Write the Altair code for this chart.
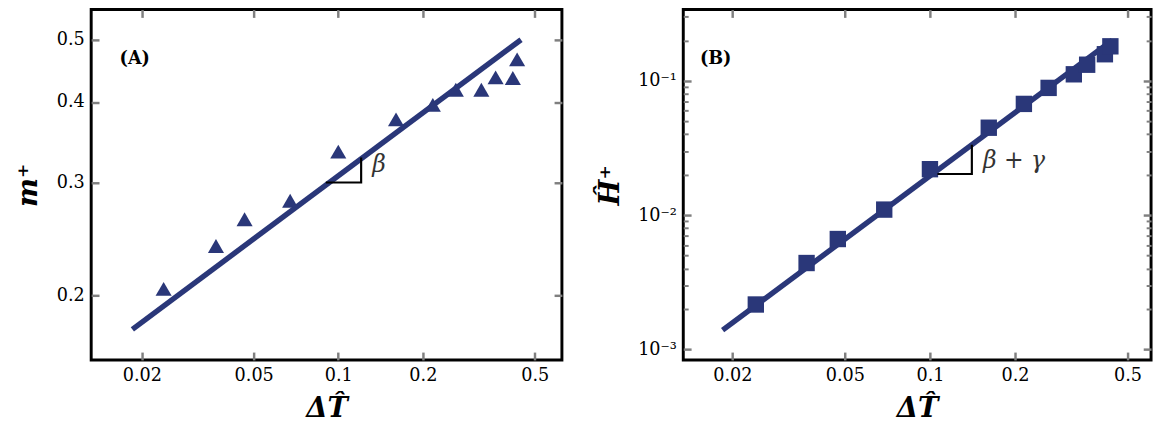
import altair as alt
import pandas as pd

# ---------------- data ----------------
# Panel A : m+ vs dT
dT_a = [0.0239, 0.0367, 0.0464, 0.0674, 0.100, 0.1605, 0.217, 0.262, 0.323, 0.363, 0.418, 0.433]
m_plus = [0.205, 0.239, 0.263, 0.281, 0.335, 0.376, 0.396, 0.418, 0.418, 0.437, 0.436, 0.466]
fit_a_dT = [0.0185, 0.447]
fit_a_m = [0.1774, 0.500]
slope_a_dT = [0.0903, 0.1206, 0.1206]
slope_a_m = [0.300, 0.300, 0.328]
slope_a_text = ["β"]
slope_a_text_dT = [0.132]
slope_a_text_m = [0.3195]

# Panel B : H+ vs dT
dT_b = [0.0242, 0.0366, 0.0472, 0.0689, 0.100, 0.1615, 0.215, 0.263, 0.323, 0.360, 0.416, 0.435]
h_plus = [0.00216, 0.00440, 0.00664, 0.0110, 0.0220, 0.0448, 0.0674, 0.0887, 0.112, 0.132, 0.158, 0.181]
fit_b_dT = [0.01846, 0.442]
fit_b_h = [0.00139, 0.201]
slope_b_dT = [0.1063, 0.1407, 0.1407]
slope_b_h = [0.02025, 0.02025, 0.03346]
slope_b_text = ["β + γ"]
slope_b_text_dT = [0.154]
slope_b_text_h = [0.0252]

# axes
x_ticks = [0.02, 0.05, 0.1, 0.2, 0.5]
m_ticks = [0.2, 0.3, 0.4, 0.5]
h_major = [0.001, 0.01, 0.1]
h_minor = [0.002, 0.003, 0.004, 0.005, 0.006, 0.007, 0.008, 0.009,
           0.02, 0.03, 0.04, 0.05, 0.06, 0.07, 0.08, 0.09,
           0.2, 0.3]
x_dom_a = [0.0132, 0.625]
m_dom = [0.159, 0.557]
x_dom_b = [0.0134, 0.606]
h_dom = [0.000835, 0.34]

NAVY = "#2a3779"
TICK = "#7f7f7f"
FONT = "DejaVu Serif"
W_A, W_B, H = 481, 478, 358


def ax(orient, values, size=8, labels=True, title=None, fmt=None, expr=None, tw=2.5):
    kw = dict(orient=orient, values=values, tickSize=size, offset=-size, domain=False,
              grid=False, labels=labels, tickColor=TICK, tickWidth=tw, title=title,
              labelPadding=7, titlePadding=11,
              labelFont=FONT, labelFontSize=18, labelColor="black",
              titleFont=FONT, titleFontSize=28, titleFontWeight="bold",
              titleFontStyle="italic", titleColor="black")
    if fmt:
        kw["format"] = fmt
    if expr:
        kw["labelExpr"] = expr
    if orient == "left":
        kw["titlePadding"] = 14
    return alt.Axis(**kw)


fitA = pd.DataFrame({"x": fit_a_dT, "y": fit_a_m})
ptsA = pd.DataFrame({"x": dT_a, "y": m_plus})
slA = pd.DataFrame({"x": slope_a_dT, "y": slope_a_m, "o": [0, 1, 2]})
txA = pd.DataFrame({"x": slope_a_text_dT, "y": slope_a_text_m, "t": slope_a_text})

xsA = alt.Scale(type="log", domain=x_dom_a, nice=False)
ysA = alt.Scale(type="log", domain=m_dom, nice=False)

a_line = alt.Chart(fitA).mark_line(color=NAVY, strokeWidth=5.5, strokeCap="butt").encode(
    x=alt.X("x:Q", scale=xsA, axis=ax("bottom", x_ticks, title="ΔT\u0302", fmt="~g")),
    y=alt.Y("y:Q", scale=ysA, axis=ax("left", m_ticks, title="m\u207a", fmt="~g")),
)
a_pts = alt.Chart(ptsA).mark_point(shape="triangle-up", filled=True, size=270, color=NAVY, opacity=1).encode(
    x=alt.X("x:Q", scale=xsA, axis=ax("top", x_ticks, labels=False)),
    y=alt.Y("y:Q", scale=ysA, axis=ax("right", m_ticks, labels=False)),
)
a_slope = alt.Chart(slA).mark_line(color="black", strokeWidth=2.2).encode(
    x=alt.X("x:Q", scale=xsA, axis=None),
    y=alt.Y("y:Q", scale=ysA, axis=None),
    order="o:Q",
)
a_txt = alt.Chart(txA).mark_text(font=FONT, fontSize=24, fontStyle="italic", align="left",
                                 baseline="middle", color="#333333").encode(
    x=alt.X("x:Q", scale=xsA, axis=None),
    y=alt.Y("y:Q", scale=ysA, axis=None),
    text="t:N",
)
a_lab = alt.Chart(txA).mark_text(text="(A)", font=FONT, fontSize=18, fontWeight="bold",
                                 align="left", baseline="middle", color="black").encode(
    x=alt.value(29), y=alt.value(51)
)
panelA = alt.layer(a_line, a_pts, a_slope, a_txt, a_lab).resolve_axis(
    x="independent", y="independent").properties(width=W_A, height=H)

fitB = pd.DataFrame({"x": fit_b_dT, "y": fit_b_h})
ptsB = pd.DataFrame({"x": dT_b, "y": h_plus})
slB = pd.DataFrame({"x": slope_b_dT, "y": slope_b_h, "o": [0, 1, 2]})
txB = pd.DataFrame({"x": slope_b_text_dT, "y": slope_b_text_h, "t": slope_b_text})

xsB = alt.Scale(type="log", domain=x_dom_b, nice=False)
ysB = alt.Scale(type="log", domain=h_dom, nice=False)
pow_expr = "datum.value < 0.005 ? '10\u207b\u00b3' : (datum.value < 0.05 ? '10\u207b\u00b2' : '10\u207b\u00b9')"

b_line = alt.Chart(fitB).mark_line(color=NAVY, strokeWidth=5.5, strokeCap="butt").encode(
    x=alt.X("x:Q", scale=xsB, axis=ax("bottom", x_ticks, title="ΔT\u0302", fmt="~g")),
    y=alt.Y("y:Q", scale=ysB, axis=ax("left", h_major, title="H\u0302\u207a", expr=pow_expr)),
)
b_pts = alt.Chart(ptsB).mark_point(shape="square", filled=True, size=280, color=NAVY, opacity=1).encode(
    x=alt.X("x:Q", scale=xsB, axis=ax("top", x_ticks, labels=False)),
    y=alt.Y("y:Q", scale=ysB, axis=ax("right", h_major, labels=False)),
)
b_slope = alt.Chart(slB).mark_line(color="black", strokeWidth=2.2).encode(
    x=alt.X("x:Q", scale=xsB, axis=None),
    y=alt.Y("y:Q", scale=ysB, axis=ax("left", h_minor, size=5, labels=False, tw=2)),
    order="o:Q",
)
b_txt = alt.Chart(txB).mark_text(font=FONT, fontSize=24, fontStyle="italic", align="left",
                                 baseline="middle", color="#333333").encode(
    x=alt.X("x:Q", scale=xsB, axis=None),
    y=alt.Y("y:Q", scale=ysB, axis=ax("right", h_minor, size=5, labels=False, tw=2)),
    text="t:N",
)
b_lab = alt.Chart(txB).mark_text(text="(B)", font=FONT, fontSize=18, fontWeight="bold",
                                 align="left", baseline="middle", color="black").encode(
    x=alt.value(17), y=alt.value(51)
)
panelB = alt.layer(b_line, b_pts, b_slope, b_txt, b_lab).resolve_axis(
    x="independent", y="independent").properties(width=W_B, height=H)

chart = alt.hconcat(panelA, panelB, spacing=30).properties(
    padding={"left": 5, "top": -6, "right": 0, "bottom": 0},
    background="white",
).configure_view(stroke="black", strokeWidth=3)

chart.save("out.html", embed_options={"renderer": "svg", "actions": False})
